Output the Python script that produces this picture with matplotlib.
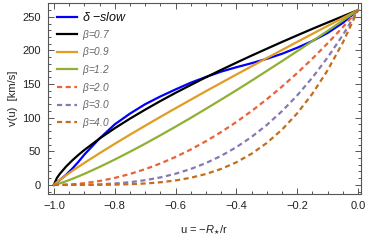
import matplotlib
matplotlib.use("Agg")
import matplotlib.pyplot as plt
from matplotlib.ticker import MultipleLocator

plt.rcParams['font.family'] = ['Liberation Sans', 'DejaVu Sans']
plt.rcParams['mathtext.fontset'] = 'custom'
plt.rcParams['mathtext.rm'] = 'Liberation Sans'
plt.rcParams['mathtext.it'] = 'Liberation Sans:italic'
plt.rcParams['mathtext.fallback'] = 'cm'

# ---- data ----
u = [-1.0, -0.99, -0.98, -0.96, -0.94, -0.92, -0.90, -0.85, -0.80, -0.75, -0.70,
     -0.65, -0.60, -0.55, -0.50, -0.45, -0.40, -0.35, -0.30, -0.25, -0.20,
     -0.15, -0.10, -0.05, 0.0]

v_delta_slow = [0, 3.5, 7.5, 15, 24, 34, 45, 69, 90, 106, 120,
                131.5, 142, 152, 160.5, 168.5, 175, 181, 187.5, 195, 204,
                214, 226, 241, 260]
v_beta07 = [0, 10.4, 16.8, 27.3, 36.3, 44.4, 51.9, 68.9, 84.3, 98.5, 111.9,
            124.7, 136.9, 148.6, 160.1, 171.1, 181.8, 192.3, 202.5, 212.6, 222.4,
            232.1, 241.5, 250.8, 260]
v_beta09 = [0, 4.1, 7.7, 14.4, 20.7, 26.8, 32.7, 47.1, 61.1, 74.7, 88.0,
            101.1, 114.0, 126.7, 139.4, 151.8, 164.2, 176.4, 188.6, 200.7, 212.7,
            224.6, 236.5, 248.3, 260]
v_beta12 = [0, 1.0, 2.4, 5.5, 8.9, 12.6, 16.4, 26.7, 37.7, 49.3, 61.3,
            73.8, 86.6, 99.7, 113.2, 126.9, 140.8, 155.0, 169.5, 184.1, 198.9,
            213.9, 229.1, 244.5, 260]
v_beta20 = [0, 0.03, 0.1, 0.4, 0.9, 1.7, 2.6, 5.85, 10.4, 16.25, 23.4,
            31.85, 41.6, 52.65, 65.0, 78.65, 93.6, 109.85, 127.4, 146.25, 166.4,
            187.85, 210.6, 234.65, 260]
v_beta30 = [0, 0, 0, 0.02, 0.06, 0.13, 0.26, 0.88, 2.08, 4.06, 7.02,
            11.15, 16.64, 23.69, 32.5, 43.26, 56.16, 71.4, 89.18, 109.69, 133.12,
            159.67, 189.54, 222.92, 260]
v_beta40 = [0, 0, 0, 0, 0, 0.01, 0.03, 0.13, 0.42, 1.02, 2.11,
            3.9, 6.66, 10.66, 16.25, 23.79, 33.7, 46.41, 62.43, 82.27, 106.5,
            135.72, 170.59, 211.77, 260]

labels = [r"$\delta$ $-$slow", r"$\beta$=0.7", r"$\beta$=0.9", r"$\beta$=1.2",
          r"$\beta$=2.0", r"$\beta$=3.0", r"$\beta$=4.0"]
series = [v_delta_slow, v_beta07, v_beta09, v_beta12, v_beta20, v_beta30, v_beta40]
colors = ['#0000FF', '#000000', '#E19C24', '#8FB032', '#EB6235', '#8778B3', '#C56E1A']
dashed = [False, False, False, False, True, True, True]

fig = plt.figure(figsize=(3.71, 2.41), dpi=100)
ax = fig.add_axes([47.5/371, 1-194/241, (360.5-47.5)/371, (194-3)/241])

for vals, lab, col, d in zip(series, labels, colors, dashed):
    if d:
        ax.plot(u, vals, color=col, lw=1.6, dashes=(2.3, 1.6), label=lab)
    else:
        ax.plot(u, vals, color=col, lw=1.6, label=lab)

ax.set_xlim(-1.021, 0.008)
ax.set_ylim(-13.5, 270.5)

ax.xaxis.set_major_locator(MultipleLocator(0.2))
ax.xaxis.set_minor_locator(MultipleLocator(0.05))
ax.yaxis.set_major_locator(MultipleLocator(50))
ax.yaxis.set_minor_locator(MultipleLocator(10))
ax.set_xticks([-1.0, -0.8, -0.6, -0.4, -0.2, 0.0])
ax.set_xticklabels(['\u22121.0', '\u22120.8', '\u22120.6', '\u22120.4', '\u22120.2', '0.0'])

frame_col = '#555555'
for sp in ax.spines.values():
    sp.set_color(frame_col)
    sp.set_linewidth(0.8)
ax.tick_params(which='both', direction='in', top=True, right=True,
               color=frame_col, labelsize=8, labelcolor='#222222', width=0.7)
ax.tick_params(which='major', length=4, pad=5)
ax.tick_params(which='minor', length=2)

ax.set_ylabel('v(u)  [km/s]', fontsize=8, color='#222222', labelpad=3)
ax.set_xlabel(r'u = $-$$R_{\star}$/r', fontsize=8, color='#222222', labelpad=9)

leg = ax.legend(loc='upper left', bbox_to_anchor=(0.01, 0.99), frameon=False,
                fontsize=7.3, handlelength=2.0, handletextpad=0.45,
                labelspacing=0.36, borderaxespad=0.2)
texts = leg.get_texts()
texts[0].set_fontsize(9)
texts[0].set_style('italic')
texts[0].set_color('#111111')
for t in texts[1:]:
    t.set_color('#666666')
    t.set_style('italic')

fig.savefig('out.png', dpi=100)
